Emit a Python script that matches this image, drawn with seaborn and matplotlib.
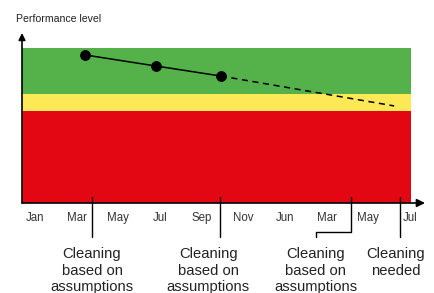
import pandas as pd
import matplotlib.pyplot as plt
import seaborn as sns

# tick labels along the time axis (evenly spaced)
months = ["Jan", "Mar", "May", "Jul", "Sep", "Nov", "Jun", "Mar", "May", "Jul"]

# measured performance (position on time axis, level 0-100)
meas_x = [1.2, 2.9, 4.46]
meas_y = [87.1, 80.6, 74.7]
# projected decline
proj_x = [4.46, 8.62]
proj_y = [74.7, 57.1]

# performance bands (lower, upper)
bands = [(0, 54.1, "#E30613"), (54.1, 64.1, "#FCE955"), (64.1, 91.2, "#55B24A")]

# cleaning events: where the line hits the axis, where the label sits
event_x = [1.37, 4.44, 7.58, 8.76]
label_x = [1.37, 4.16, 6.74, 8.66]
bent = [False, False, True, False]
event_text = ["Cleaning\nbased on\nassumptions", "Cleaning\nbased on\nassumptions",
              "Cleaning\nbased on\nassumptions", "Cleaning\nneeded"]

sns.set_style("white")
plt.rcParams['font.family'] = ['Liberation Sans', 'DejaVu Sans']

fig = plt.figure(figsize=(4.34, 2.93), dpi=100)
ax = fig.add_axes([22/434, 1-203/293, (425-22)/434, (203-33)/293])
ax.set_xlim(-0.31, 9.36)
ax.set_ylim(0, 100)

# colored bands
for lo, hi, c in bands:
    ax.fill_between([-0.31, 9.02], lo, hi, color=c, lw=0, zorder=0)

# measured + projection
df_meas = pd.DataFrame({"t": meas_x, "level": meas_y})
df_proj = pd.DataFrame({"t": proj_x, "level": proj_y})
sns.lineplot(data=df_proj, x="t", y="level", ax=ax, color="black", lw=1.1,
             linestyle=(0, (4, 3)), zorder=2)
sns.lineplot(data=df_meas, x="t", y="level", ax=ax, color="black", lw=1.1,
             marker="o", markersize=7, markeredgecolor="black", zorder=3)

# axes with arrows
for s in ax.spines.values():
    s.set_visible(False)
ax.annotate("", xy=(1.0, 0), xytext=(0, 0), xycoords="axes fraction",
            arrowprops=dict(arrowstyle="-|>", color="black", lw=1.2, mutation_scale=12,
                            shrinkA=0, shrinkB=0), annotation_clip=False)
ax.annotate("", xy=(0, 1.0), xytext=(0, 0), xycoords="axes fraction",
            arrowprops=dict(arrowstyle="-|>", color="black", lw=1.2, mutation_scale=10,
                            shrinkA=0, shrinkB=0), annotation_clip=False)

ax.set_xticks(range(len(months)))
ax.set_xticklabels(months, fontsize=8.3, color="#333333")
ax.set_yticks([])
ax.tick_params(axis="x", direction="in", length=4.5, width=0.8, pad=6.5, color="black")
ax.set_xlabel("")
ax.set_ylabel("")

# cleaning events below the axis
for ex, lx, b, txt in zip(event_x, label_x, bent, event_text):
    if b:
        ax.plot([ex, ex, lx, lx], [3.5, -17.1, -17.1, -20], color="black", lw=1,
                clip_on=False)
    else:
        ax.plot([ex, ex], [3.5, -20], color="black", lw=1, clip_on=False)
    ax.text(lx, -26, txt, ha="center", va="top", fontsize=10.6, linespacing=1.22,
            color="#222222", clip_on=False)

fig.text(16/434, 1-19/293, "Performance level", fontsize=7.6, va="center", ha="left",
         color="#222222")

plt.savefig("out.png", dpi=100)
